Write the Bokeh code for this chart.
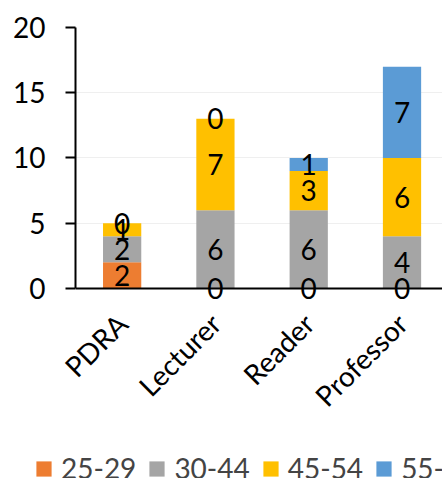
import math
from bokeh.plotting import figure
from bokeh.models import Range1d, FixedTicker, Legend, LegendItem, ColumnDataSource, Span
from bokeh.core.properties import value
from bokeh.embed import file_html
from bokeh.resources import INLINE

categories = ["PDRA", "Lecturer", "Reader", "Professor"]
series_names = ["25-29", "30-44", "45-54", "55-64"]
s_25_29 = [2, 0, 0, 0]
s_30_44 = [2, 6, 6, 4]
s_45_54 = [1, 7, 3, 6]
s_55_64 = [0, 0, 1, 7]
colors = ["#ED7D31", "#A5A5A5", "#FFC000", "#5B9BD5"]
y_ticks = [0, 5, 10, 15, 20]

FONT = "Lato"
FS = "28px"
series = [s_25_29, s_30_44, s_45_54, s_55_64]
xs = [i + 0.5 for i in range(len(categories))]

data = {"x": xs}
for name, vals in zip(series_names, series):
    data[name] = vals
src = ColumnDataSource(data)

p = figure(width=442, height=440, output_backend="svg", toolbar_location=None,
           x_range=Range1d(0, 3.934), y_range=Range1d(-1, 20),
           min_border_left=75, min_border_right=0, min_border_top=27,
           min_border_bottom=139)
p.outline_line_color = None
p.background_fill_color = "white"

p.xgrid.grid_line_color = None
p.ygrid.grid_line_color = "#efefef"
p.ygrid.grid_line_width = 1

renderers = p.vbar_stack(series_names, x="x", width=0.41, color=colors,
                         line_color=None, source=src)

# baseline (x axis line at y = 0)
p.add_layout(Span(location=0, dimension="width", line_color="black", line_width=2))

# value labels
lx, ly, lt = [], [], []
bottoms = [0] * len(categories)
for vals in series:
    for i, v in enumerate(vals):
        lx.append(xs[i])
        ly.append(bottoms[i] + v / 2)
        lt.append(str(v))
        bottoms[i] += v
p.text(x=lx, y=ly, text=lt, text_align="center", text_baseline="middle",
       text_font=value(FONT), text_font_size=FS, text_color="black")

# axes
p.xaxis.ticker = FixedTicker(ticks=xs)
p.xaxis.major_label_overrides = {x: c for x, c in zip(xs, categories)}
p.xaxis.major_label_orientation = math.pi / 4
p.xaxis.major_tick_out = 0
p.xaxis.major_tick_in = 0
p.xaxis.minor_tick_line_color = None
p.xaxis.axis_line_color = None
p.xaxis.major_label_text_font = FONT
p.xaxis.major_label_text_font_size = FS
p.xaxis.major_label_text_color = "black"
p.xaxis.major_label_standoff = 17

p.yaxis.bounds = (0, 20)
p.yaxis.ticker = FixedTicker(ticks=y_ticks)
p.yaxis.major_tick_out = 10
p.yaxis.major_tick_in = 0
p.yaxis.major_tick_line_width = 2
p.yaxis.minor_tick_line_color = None
p.yaxis.axis_line_width = 2
p.yaxis.axis_line_color = "black"
p.yaxis.major_label_text_font = FONT
p.yaxis.major_label_text_font_size = FS
p.yaxis.major_label_text_color = "black"
p.yaxis.major_label_standoff = 20

# legend strip (separate root so its frame starts at the left edge)
lg = figure(width=442, height=38, output_backend="svg", toolbar_location=None,
            x_range=Range1d(0, 1), y_range=Range1d(0, 1),
            x_axis_location=None, y_axis_location=None,
            min_border_left=0, min_border_right=0, min_border_top=0, min_border_bottom=0)
lg.outline_line_color = None
lg.grid.visible = False
lg_renderers = [lg.vbar(x=[10], top=[1], width=0.5, color=c, line_color=None) for c in colors]
legend = Legend(items=[LegendItem(label=n, renderers=[r]) for n, r in zip(series_names, lg_renderers)],
                orientation="horizontal", location=(34, -7),
                glyph_width=19, glyph_height=19, label_standoff=8, spacing=11,
                label_text_font=FONT, label_text_font_size=FS,
                padding=0, margin=0, border_line_color=None,
                background_fill_alpha=0)
lg.add_layout(legend)

open("out.html", "w").write(file_html([p, lg], INLINE))
